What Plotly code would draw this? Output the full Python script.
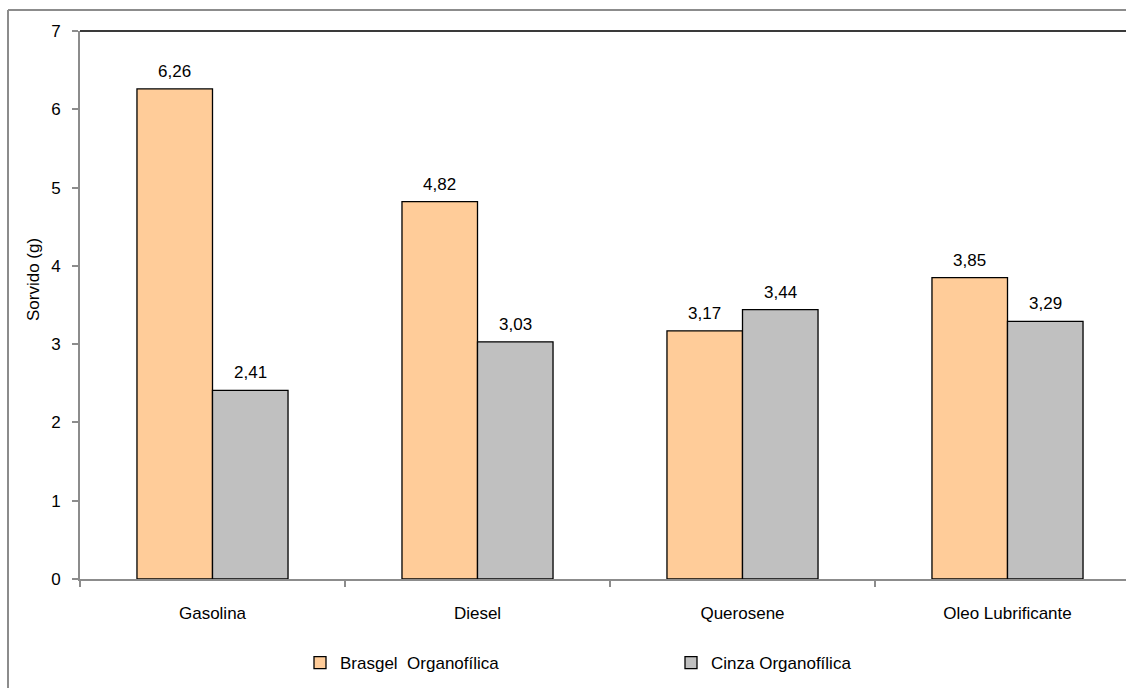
import plotly.graph_objects as go

# Sorbed mass per fuel type, two organophilic clays
categories = ["Gasolina", "Diesel", "Querosene", "Oleo Lubrificante"]
brasgel = [6.26, 4.82, 3.17, 3.85]
cinza = [2.41, 3.03, 3.44, 3.29]
series_names = ["Brasgel  Organofílica", "Cinza Organofílica"]
series_colors = ["#FFCC99", "#C0C0C0"]
y_ticks = [0, 1, 2, 3, 4, 5, 6, 7]

FONT = "Liberation Sans, Arial, sans-serif"
W, H = 1126, 688
L, R, T, B = 80, 0, 31, 109
plot_w = W - L - R
plot_h = H - T - B
cat_px = 265.0  # pixel width of one category slot

fig = go.Figure()
for name, vals, col in zip(series_names, [brasgel, cinza], series_colors):
    fig.add_trace(go.Bar(
        x=categories, y=vals, name=name,
        marker=dict(color=col, line=dict(color="#000000", width=1.3)),
    ))

bargap = 0.43
half = (1 - bargap) / 4.0  # offset of each bar centre from category centre

annotations = []
for k, vals in enumerate([brasgel, cinza]):
    off = -half if k == 0 else half
    for j, v in enumerate(vals):
        annotations.append(dict(
            x=j + off, y=v, xref="x", yref="y",
            text=f"{v:.2f}".replace(".", ","),
            showarrow=False, yanchor="bottom", yshift=6,
            font=dict(family=FONT, size=17, color="#000000"),
        ))

# rotated axis title
annotations.append(dict(
    x=(33 - L) / plot_w, y=(H - B - 280) / plot_h, xref="paper", yref="paper",
    text="Sorvido (g)", textangle=-90, showarrow=False,
    xanchor="center", yanchor="middle",
    font=dict(family=FONT, size=17, color="#000000"),
))

shapes = [
    # dark top border of the plot area
    dict(type="line", xref="paper", yref="paper", x0=0, x1=1, y0=1, y1=1,
         line=dict(color="#3A3A3A", width=2)),
    # outer chart frame (left and top edges)
    dict(type="line", xref="paper", yref="paper",
         x0=(8 - L) / plot_w, x1=(8 - L) / plot_w,
         y0=1 + (T - 10) / plot_h, y1=-0.5,
         line=dict(color="#8C8C8C", width=2)),
    dict(type="line", xref="paper", yref="paper",
         x0=(8 - L) / plot_w, x1=1.2,
         y0=1 + (T - 10) / plot_h, y1=1 + (T - 10) / plot_h,
         line=dict(color="#8C8C8C", width=2)),
]

fig.update_layout(
    width=W, height=H,
    margin=dict(l=L, r=R, t=T, b=B, pad=0),
    paper_bgcolor="#FFFFFF", plot_bgcolor="#FFFFFF",
    barmode="group", bargap=bargap, bargroupgap=0,
    separators=",.",
    font=dict(family=FONT, size=17, color="#000000"),
    showlegend=True,
    legend=dict(
        orientation="h", xref="paper", yref="paper",
        x=(300 - L) / plot_w, xanchor="left",
        y=-(645 - (H - B)) / plot_h, yanchor="top",
        entrywidth=326, entrywidthmode="pixels",
        font=dict(family=FONT, size=17, color="#000000"),
        bgcolor="rgba(0,0,0,0)", traceorder="normal",
    ),
    xaxis=dict(
        type="category", range=[-0.5, -0.5 + plot_w / cat_px],
        showgrid=False, zeroline=False,
        showline=True, linecolor="#8C8C8C", linewidth=2,
        ticks="outside", tickson="boundaries", ticklen=6,
        tickcolor="#8C8C8C", tickwidth=2,
        ticklabelstandoff=18,
        tickfont=dict(family=FONT, size=17, color="#000000"),
    ),
    yaxis=dict(
        range=[0, 7], tickvals=y_ticks, showgrid=False, zeroline=False,
        showline=True, linecolor="#8C8C8C", linewidth=2,
        ticks="outside", ticklen=6, tickcolor="#8C8C8C", tickwidth=2,
        ticklabelstandoff=8,
        tickfont=dict(family=FONT, size=17, color="#000000"),
    ),
    annotations=annotations,
    shapes=shapes,
)

fig.write_html("out.html")
